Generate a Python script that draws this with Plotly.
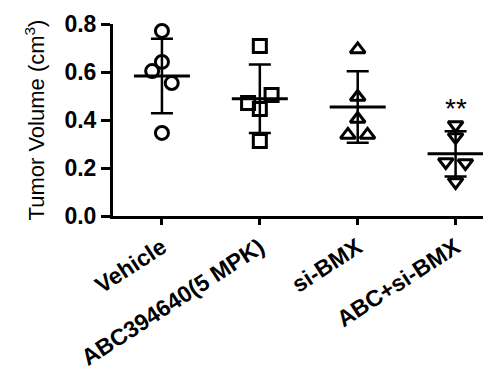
import numpy as np
import plotly.graph_objects as go

categories = ["Vehicle", "ABC394640(5 MPK)", "si-BMX", "ABC+si-BMX"]
vehicle = [0.771, 0.642, 0.604, 0.554, 0.346]
abc = [0.708, 0.504, 0.471, 0.446, 0.313]
si_bmx = [0.694, 0.496, 0.404, 0.338, 0.338]
combo = [0.379, 0.329, 0.225, 0.221, 0.142]
jitter = [
    [0.0, 0.0, -0.1, 0.1, 0.0],
    [0.0, 0.12, -0.12, 0.0, 0.0],
    [0.0, 0.0, 0.0, -0.1, 0.1],
    [0.0, 0.0, -0.1, 0.1, 0.0],
]
symbols = ["circle-open", "square-open", "triangle-up-open", "triangle-down-open"]
yticks = [0.0, 0.2, 0.4, 0.6, 0.8]
groups = [vehicle, abc, si_bmx, combo]

fig = go.Figure()
for i, vals in enumerate(groups):
    xs = [i + j for j in jitter[i]]
    fig.add_trace(go.Scatter(
        x=xs, y=vals, mode="markers",
        marker=dict(symbol=symbols[i], size=13, color="black",
                    line=dict(width=3, color="black")),
        showlegend=False, cliponaxis=False))

for i, vals in enumerate(groups):
    m = float(np.mean(vals))
    sd = float(np.std(vals, ddof=1))
    fig.add_trace(go.Scatter(
        x=[i], y=[m], mode="markers",
        marker=dict(symbol="line-ew-open", size=40, color="black",
                    line=dict(width=3, color="black")),
        error_y=dict(type="data", array=[sd], visible=True,
                     color="black", thickness=2.5, width=11),
        showlegend=False, cliponaxis=False))

fig.add_annotation(x=3, y=0.45, text="**", showarrow=False,
                   font=dict(size=28, color="black", family="Liberation Sans"),
                   yanchor="middle")

fig.update_layout(
    width=483, height=372,
    margin=dict(l=113, r=0, t=24, b=156),
    paper_bgcolor="white", plot_bgcolor="white",
    font=dict(family="Liberation Sans", color="black"),
    xaxis=dict(
        range=[-0.5, 3.28], tickmode="array", tickvals=list(range(len(categories))),
        ticktext=["<b>%s</b>" % c for c in categories],
        tickangle=-33, tickfont=dict(size=23), automargin=False,
        showline=True, linecolor="black", linewidth=3,
        ticks="outside", ticklen=6, tickwidth=3, tickcolor="black",
        showgrid=False, zeroline=False),
    yaxis=dict(
        range=[0, 0.8], tickmode="array", tickvals=yticks,
        ticktext=["<b>%.1f</b>" % v for v in yticks],
        tickfont=dict(size=23), automargin=False,
        showline=True, linecolor="black", linewidth=3,
        ticks="outside", ticklen=9, tickwidth=3, tickcolor="black",
        showgrid=False, zeroline=False,
        title=dict(text="Tumor Volume (cm<sup>3</sup>)", font=dict(size=22), standoff=14)),
)

fig.write_html("out.html", config={"displayModeBar": False},
               post_script="document.body.style.margin='0';document.body.style.overflow='hidden';")
